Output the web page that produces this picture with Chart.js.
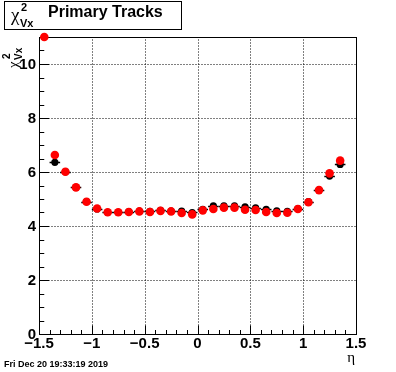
<!DOCTYPE html>
<html>
<head>
<meta charset="utf-8">
<script src="https://cdn.jsdelivr.net/npm/chart.js@4"></script>
<style>
  html, body { margin: 0; padding: 0; background: #fff; }
  canvas { display: block; }
</style>
</head>
<body>
<canvas id="chart" width="396" height="372"></canvas>
<script>
// eta bin centres (30 bins of 0.1 from -1.5 to 1.5)
const etaBins = [-1.45, -1.35, -1.25, -1.15, -1.05, -0.95, -0.85, -0.75, -0.65, -0.55,
                 -0.45, -0.35, -0.25, -0.15, -0.05, 0.05, 0.15, 0.25, 0.35, 0.45,
                 0.55, 0.65, 0.75, 0.85, 0.95, 1.05, 1.15, 1.25, 1.35, 1.45];
const binHalfWidth = 0.05;

// black histogram (with horizontal error bars)
const chi2Black = [null, 6.36, 6.01, 5.43, 4.90, 4.63, 4.51, 4.51, 4.53, 4.55,
                   4.54, 4.58, 4.55, 4.55, 4.50, 4.62, 4.75, 4.75, 4.75, 4.71,
                   4.67, 4.62, 4.56, 4.54, 4.64, 4.90, 5.33, 5.85, 6.28, null];

// red histogram (markers only)
const chi2Red = [11.0, 6.63, 6.01, 5.43, 4.90, 4.65, 4.51, 4.51, 4.52, 4.54,
                 4.52, 4.56, 4.54, 4.48, 4.43, 4.58, 4.63, 4.68, 4.68, 4.60,
                 4.59, 4.52, 4.48, 4.49, 4.63, 4.88, 5.33, 5.95, 6.42, null];

// axis ticks
const xTickValues = [-1.5, -1, -0.5, 0, 0.5, 1, 1.5];
const xTickLabels = ['\u22121.5', '\u22121', '\u22120.5', '0', '0.5', '1', '1.5'];
const yTickValues = [0, 2, 4, 6, 8, 10];
const yTickLabels = ['0', '2', '4', '6', '8', '10'];
const xMinorStep = 0.1;
const yMinorStep = 0.5;

const dateStamp = 'Fri Dec 20 19:33:19 2019';

const toPoints = (vals) => etaBins.map((x, i) => ({ x: x, y: vals[i] }))
    .filter(p => p.y !== null);

const SANS = '"Liberation Sans", Arial, Helvetica, sans-serif';
const SERIF = '"Liberation Serif", "DejaVu Serif", serif';

/**
 * Draws the ROOT-style frame, grid, ticks, labels and error bars
 */
const rootAxes = {
    id: 'rootAxes',
    beforeDatasetsDraw(chart) {
        const ctx = chart.ctx;
        const xs = chart.scales.x;
        const ys = chart.scales.y;
        const area = chart.chartArea;
        const px = (v) => Math.round(xs.getPixelForValue(v)) + 0.5;
        const py = (v) => Math.round(ys.getPixelForValue(v)) + 0.5;
        const L = Math.round(area.left) + 0.5;
        const R = Math.round(area.right) + 0.5;
        const T = Math.round(area.top) + 0.5;
        const B = Math.round(area.bottom) + 0.5;

        ctx.save();
        // dotted grid
        ctx.strokeStyle = '#000';
        ctx.lineWidth = 1;
        ctx.setLineDash([1, 2]);
        xTickValues.forEach(v => {
            if (v <= xs.min || v >= xs.max) return;
            ctx.beginPath();
            ctx.moveTo(px(v), B);
            ctx.lineTo(px(v), T);
            ctx.stroke();
        });
        yTickValues.forEach(v => {
            if (v <= ys.min || v >= ys.max) return;
            ctx.beginPath();
            ctx.moveTo(L, py(v));
            ctx.lineTo(R, py(v));
            ctx.stroke();
        });
        ctx.setLineDash([]);

        // frame
        ctx.strokeRect(L, T, R - L, B - T);

        // x ticks (inward from bottom)
        const xMajorLen = 9, xMinorLen = 4.5;
        for (let k = 0; ; k++) {
            const v = xs.min + k * xMinorStep;
            if (v > xs.max + 1e-9) break;
            const isMajor = xTickValues.some(t => Math.abs(t - v) < 1e-6);
            ctx.beginPath();
            ctx.moveTo(px(v), B);
            ctx.lineTo(px(v), B - (isMajor ? xMajorLen : xMinorLen));
            ctx.stroke();
        }
        // y ticks (inward from left)
        const yMajorLen = 9.5, yMinorLen = 4.75;
        for (let k = 0; ; k++) {
            const v = ys.min + k * yMinorStep;
            if (v > ys.max + 1e-9) break;
            const isMajor = yTickValues.some(t => Math.abs(t - v) < 1e-6);
            ctx.beginPath();
            ctx.moveTo(L, py(v));
            ctx.lineTo(L + (isMajor ? yMajorLen : yMinorLen), py(v));
            ctx.stroke();
        }

        // tick labels
        ctx.fillStyle = '#000';
        ctx.font = 'bold 15px ' + SANS;
        ctx.textAlign = 'center';
        ctx.textBaseline = 'alphabetic';
        xTickValues.forEach((v, i) => {
            ctx.fillText(xTickLabels[i], xs.getPixelForValue(v), 348);
        });
        ctx.textAlign = 'right';
        ctx.textBaseline = 'middle';
        yTickValues.forEach((v, i) => {
            ctx.fillText(yTickLabels[i], area.left - 3, ys.getPixelForValue(v) + 1);
        });

        // horizontal error bars of the black histogram
        ctx.lineWidth = 1.5;
        etaBins.forEach((x, i) => {
            const y = chi2Black[i];
            if (y === null) return;
            const yy = Math.round(ys.getPixelForValue(y)) + 0.5;
            ctx.beginPath();
            ctx.moveTo(xs.getPixelForValue(x - binHalfWidth), yy);
            ctx.lineTo(xs.getPixelForValue(x + binHalfWidth), yy);
            ctx.stroke();
        });
        ctx.restore();
    },
    afterDraw(chart) {
        const ctx = chart.ctx;
        ctx.save();
        ctx.fillStyle = '#000';
        ctx.strokeStyle = '#000';
        ctx.textBaseline = 'alphabetic';
        ctx.textAlign = 'left';

        // title box
        ctx.fillStyle = '#fff';
        ctx.fillRect(4.5, 1.5, 177, 28);
        ctx.lineWidth = 1;
        ctx.strokeRect(4.5, 1.5, 177, 28);
        ctx.fillStyle = '#000';
        ctx.font = '19px ' + SERIF;
        ctx.fillText('\u03c7', 11, 21);
        ctx.font = 'bold 11px ' + SANS;
        ctx.fillText('2', 21, 11);
        ctx.fillText('Vx', 20, 27);
        ctx.font = 'bold 16px ' + SANS;
        ctx.fillText('Primary Tracks', 48, 17);

        // y-axis title (rotated)
        ctx.save();
        ctx.translate(18, 68);
        ctx.rotate(-Math.PI / 2);
        ctx.font = '15px ' + SERIF;
        ctx.fillText('\u03c7', 0, 0);
        ctx.font = 'bold 10px ' + SANS;
        ctx.fillText('2', 9, -8);
        ctx.fillText('Vx', 8, 4);
        ctx.restore();

        // x-axis title
        ctx.font = '15px ' + SERIF;
        ctx.textAlign = 'right';
        ctx.fillText('\u03b7', 355, 362);

        // date stamp
        ctx.textAlign = 'left';
        ctx.font = 'bold 9px ' + SANS;
        ctx.fillText(dateStamp, 4, 367);
        ctx.restore();
    }
};

new Chart(document.getElementById('chart'), {
    type: 'scatter',
    data: {
        datasets: [
            {
                label: 'black',
                data: toPoints(chi2Black),
                backgroundColor: '#000',
                borderColor: '#000',
                pointRadius: 3.6,
                pointBorderWidth: 0,
                order: 2,
                clip: false
            },
            {
                label: 'red',
                data: toPoints(chi2Red),
                backgroundColor: '#ff0000',
                borderColor: '#ff0000',
                pointRadius: 4.3,
                pointBorderWidth: 0,
                order: 1,
                clip: false
            }
        ]
    },
    options: {
        responsive: false,
        animation: false,
        events: [],
        layout: { padding: { left: 39, top: 37, right: 40, bottom: 38 } },
        plugins: {
            legend: { display: false },
            tooltip: { enabled: false }
        },
        scales: {
            x: { type: 'linear', min: -1.5, max: 1.5, display: false },
            y: { type: 'linear', min: 0, max: 11, display: false }
        }
    },
    plugins: [rootAxes]
});
</script>
</body>
</html>
